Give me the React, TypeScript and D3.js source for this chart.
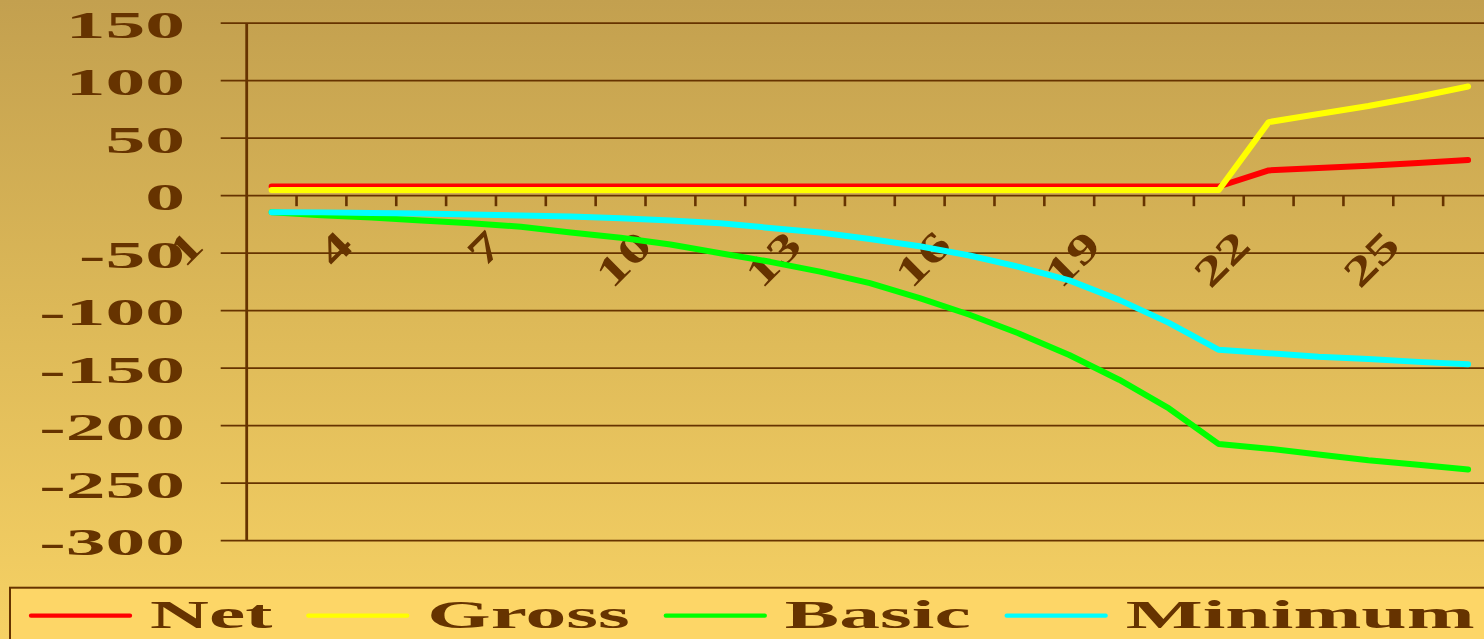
import React, { useEffect, useRef } from "react";
import * as d3 from "d3";

// Years 1..25 on the category axis
const categories: number[] = [1, 2, 3, 4, 5, 6, 7, 8, 9, 10, 11, 12, 13, 14, 15, 16, 17, 18, 19, 20, 21, 22, 23, 24, 25];
const xTickLabels: number[] = [1, 4, 7, 10, 13, 16, 19, 22, 25];
const yTicks: number[] = [150, 100, 50, 0, -50, -100, -150, -200, -250, -300];

const net: number[] = [8, 8, 8, 8, 8, 8, 8, 8, 8, 8, 8, 8, 8, 8, 8, 8, 8, 8, 8, 8, 22, 24, 26, 28.5, 31];
const gross: number[] = [5, 5, 5, 5, 5, 5, 5, 5, 5, 5, 5, 5, 5, 5, 5, 5, 5, 5, 5, 5, 64, 71, 78, 86, 95];
const basic: number[] = [-14.3, -17, -19, -21.5, -24, -27, -32, -36.5, -42.5, -50, -57.5, -66, -76, -89, -103.5, -120, -138.5, -160, -185, -216, -220, -225, -230, -234, -238];
const minimum: number[] = [-14.3, -14.5, -15, -15.5, -16.3, -17.2, -18, -19.7, -21.5, -24, -28, -32, -37.6, -44, -52, -62, -73.6, -90.6, -110.6, -134, -137, -140, -142, -144.5, -146.5];

const seriesNames: string[] = ["Net", "Gross", "Basic", "Minimum"];
const seriesColors: string[] = ["#FF0000", "#FFFF00", "#00FF00", "#00FFFF"];

const W = 1484;
const H = 639;
const INK = "#663300";
const FONT = "'Liberation Serif', 'Times New Roman', serif";
const STRETCH = 2.04;

export default function App() {
  const ref = useRef<SVGSVGElement | null>(null);

  useEffect(() => {
    document.body.style.margin = "0";
    const svg = d3.select(ref.current);
    svg.selectAll("*").remove();

    const defs = svg.append("defs");
    const grad = defs
      .append("linearGradient")
      .attr("id", "bg")
      .attr("x1", 0)
      .attr("y1", 0)
      .attr("x2", 0)
      .attr("y2", 1);
    grad.append("stop").attr("offset", "0%").attr("stop-color", "#C3A04F");
    grad.append("stop").attr("offset", "50%").attr("stop-color", "#DDB958");
    grad.append("stop").attr("offset", "100%").attr("stop-color", "#F6D164");

    svg.append("rect").attr("width", W).attr("height", H).attr("fill", "url(#bg)");

    const plotLeft = 246.7;
    const x = d3
      .scaleBand<number>()
      .domain(categories)
      .range([plotLeft, 1493])
      .paddingInner(0)
      .paddingOuter(0);
    const bw = x.bandwidth();
    const cx = (c: number) => (x(c) as number) + bw / 2;

    const y = d3.scaleLinear().domain([-300, 150]).range([540.7, 23.2]);

    // horizontal gridlines
    svg
      .append("g")
      .selectAll("line")
      .data(yTicks)
      .join("line")
      .attr("x1", 220.7)
      .attr("x2", W)
      .attr("y1", (d) => y(d))
      .attr("y2", (d) => y(d))
      .attr("stroke", INK)
      .attr("stroke-width", 1.8);

    // value axis line
    svg
      .append("line")
      .attr("x1", plotLeft)
      .attr("x2", plotLeft)
      .attr("y1", y(150))
      .attr("y2", y(-300))
      .attr("stroke", INK)
      .attr("stroke-width", 2.8);

    // category tick marks below the zero line
    svg
      .append("g")
      .selectAll("line")
      .data(categories.slice(1))
      .join("line")
      .attr("x1", (c) => x(c) as number)
      .attr("x2", (c) => x(c) as number)
      .attr("y1", y(0))
      .attr("y2", y(0) + 10.5)
      .attr("stroke", INK)
      .attr("stroke-width", 2.6);

    // value axis labels
    svg
      .append("g")
      .selectAll("text")
      .data(yTicks)
      .join("text")
      .attr("transform", (d) => `translate(185,${y(d) + 14.5}) scale(${STRETCH},1)`)
      .attr("text-anchor", "end")
      .attr("font-family", FONT)
      .attr("font-weight", "bold")
      .attr("font-size", 39)
      .attr("fill", INK)
      .text((d) => String(d));

    // rotated category labels
    svg
      .append("g")
      .selectAll("text")
      .data(xTickLabels)
      .join("text")
      .attr("transform", (c) => `translate(${cx(c) - 66},${y(0) + 52}) rotate(-45) scale(1.45,1)`)
      .attr("text-anchor", "end")
      .attr("font-family", FONT)
      .attr("font-weight", "bold")
      .attr("font-size", 41)
      .attr("fill", INK)
      .text((c) => String(c));

    // series lines
    const allSeries = [net, gross, basic, minimum];
    const line = d3
      .line<number>()
      .x((_, i) => cx(categories[i]))
      .y((v) => y(v));
    svg
      .append("g")
      .selectAll("path")
      .data(allSeries)
      .join("path")
      .attr("d", (s) => line(s))
      .attr("fill", "none")
      .attr("stroke", (_, i) => seriesColors[i])
      .attr("stroke-width", 6)
      .attr("stroke-linecap", "round")
      .attr("stroke-linejoin", "round");

    // legend
    const lg = svg.append("g");
    lg.append("rect")
      .attr("x", 10)
      .attr("y", 587.7)
      .attr("width", W + 20)
      .attr("height", 80)
      .attr("fill", "#FDD667")
      .attr("stroke", INK)
      .attr("stroke-width", 2);
    let lx = 29;
    const ly = 615.7;
    seriesNames.forEach((name, i) => {
      lg.append("line")
        .attr("x1", lx + 2)
        .attr("x2", lx + 101)
        .attr("y1", ly)
        .attr("y2", ly)
        .attr("stroke", seriesColors[i])
        .attr("stroke-width", 4.3)
        .attr("stroke-linecap", "round");
      const tx = lx + 121;
      const t = lg
        .append("text")
        .attr("transform", `translate(${tx},628.3) scale(${STRETCH},1)`)
        .attr("font-family", FONT)
        .attr("font-weight", "bold")
        .attr("font-size", 40)
        .attr("fill", INK)
        .text(name);
      const w = (t.node() as SVGTextElement).getComputedTextLength() * STRETCH;
      lx = tx + w + 34;
    });
  }, []);

  return (
    <svg
      ref={ref}
      width={W}
      height={H}
      style={{ position: "absolute", left: 0, top: 0, display: "block" }}
    />
  );
}
